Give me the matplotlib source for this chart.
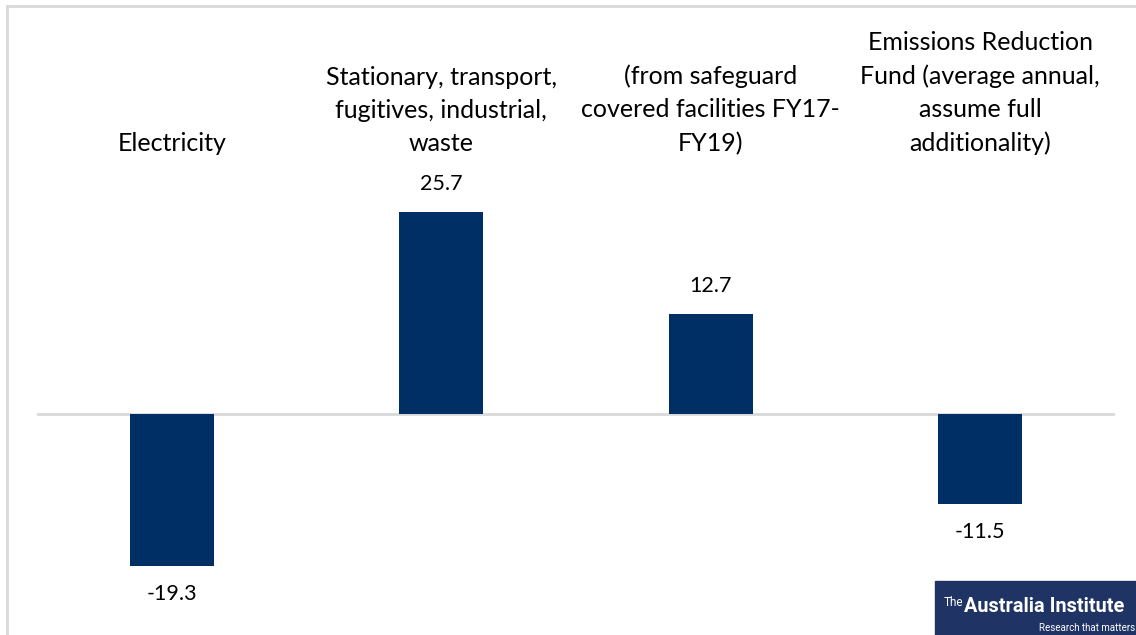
import matplotlib
matplotlib.use("Agg")
import matplotlib.pyplot as plt
from matplotlib.lines import Line2D
from matplotlib.patches import Rectangle

categories = [
    "Electricity",
    "Stationary, transport,\nfugitives, industrial,\nwaste",
    "(from safeguard\ncovered facilities FY17-\nFY19)",
    "Emissions Reduction\nFund (average annual,\nassume full\nadditionality)",
]
values = [-19.3, 25.7, 12.7, -11.5]
value_labels = ["-19.3", "25.7", "12.7", "-11.5"]

W, H = 1136, 635
BAR_COLOR = "#002F66"
GRID_COLOR = "#D9D9D9"
plt.rcParams["font.family"] = ["Lato", "DejaVu Sans"]

fig = plt.figure(figsize=(W / 100, H / 100), dpi=100)
fig.patch.set_facecolor("white")

# plot area spans the full height; y-limits place zero at 414 px from top
px_per_unit = 7.86
zero_px = 414
ax = fig.add_axes([37 / W, 0, 1078 / W, 1])
ax.set_xlim(-0.5, len(values) - 0.5)
ax.set_ylim(-(H - zero_px) / px_per_unit, zero_px / px_per_unit)
ax.axis("off")

x = range(len(values))
ax.bar(x, values, width=0.312, color=BAR_COLOR, zorder=3)
ax.axhline(0, color=GRID_COLOR, lw=2, zorder=2)

for xi, v, lab in zip(x, values, value_labels):
    off = 18 if v > 0 else -18
    ax.annotate(lab, (xi, v), xytext=(0, off), textcoords="offset pixels",
                ha="center", va="bottom" if v > 0 else "top",
                fontsize=15.5, color="#000000")

# category titles sit above the bars, bottom-aligned
for xi, cat in zip(x, categories):
    ax.text(xi, 1 - 155 / H, cat, transform=ax.get_xaxis_transform(),
            ha="center", va="bottom", fontsize=18, linespacing=1.53,
            color="#000000")

# outer chart frame
fig.add_artist(Line2D([7 / W, 7 / W], [0, 1 - 6 / H], color=GRID_COLOR, lw=2,
                      transform=fig.transFigure))
fig.add_artist(Line2D([7 / W, 1], [1 - 6 / H, 1 - 6 / H], color=GRID_COLOR, lw=2,
                      transform=fig.transFigure))

# publisher badge
fig.add_artist(Rectangle((935 / W, 0), (W - 935) / W, 54 / H,
                         transform=fig.transFigure, color="#1F3364", zorder=5))
fig.text(944 / W, 1 - 603 / H, "The", fontsize=8.5, color="white",
         ha="left", va="center", zorder=6, family=["Roboto", "DejaVu Sans"])
fig.text(964 / W, 1 - 607 / H, "Australia Institute", fontsize=14.3,
         color="white", ha="left", va="center", zorder=6, weight="bold",
         family=["Roboto", "DejaVu Sans"])
fig.text(1135 / W, 1 - 628 / H, "Research that matters", fontsize=7,
         color="white", ha="right", va="center", zorder=6,
         family=["Roboto", "DejaVu Sans"])

fig.savefig("out.png", dpi=100)
